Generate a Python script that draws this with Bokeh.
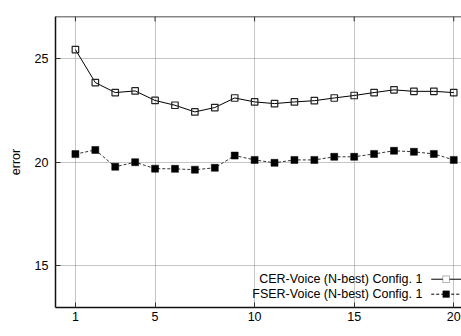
from bokeh.plotting import figure
from bokeh.models import (LinearAxis, FixedTicker, Label, Arrow, BoxAnnotation,
                          Range1d, Span)
from bokeh.embed import file_html
from bokeh.resources import INLINE

# ---- data ----
n_best = list(range(1, 21))
cer_voice = [25.41, 23.82, 23.34, 23.42, 22.96, 22.73, 22.41, 22.62, 23.08, 22.89,
             22.81, 22.89, 22.95, 23.08, 23.20, 23.34, 23.47, 23.40, 23.40, 23.34]
fser_voice = [20.38, 20.58, 19.77, 19.99, 19.68, 19.67, 19.63, 19.72, 20.31, 20.10,
              19.96, 20.10, 20.10, 20.25, 20.25, 20.39, 20.54, 20.49, 20.39, 20.10]
x_ticks = [1, 5, 10, 15, 20]
y_ticks = [15, 20, 25]
series_labels = ["CER-Voice (N-best) Config. 1", "FSER-Voice (N-best) Config. 1"]
x_label = "n-best"
y_label = "error"

FONT = "Liberation Sans"
FS = "12.5px"

x0, x1 = 0, 20.39
y0, y1 = 13, 27

p = figure(frame_width=406, frame_height=291, output_backend="svg",
           toolbar_location=None,
           x_range=Range1d(x0, x1), y_range=Range1d(y0, y1),
           x_axis_location=None, y_axis_location=None,
           min_border_left=55, min_border_right=0, min_border_top=16,
           min_border_bottom=29)
p.outline_line_color = None
p.background_fill_color = "white"
p.border_fill_color = "white"

def style_axis(ax):
    ax.axis_line_color = "#111111"
    ax.axis_line_width = 1.5
    ax.major_tick_in = 5
    ax.major_tick_out = 0
    ax.major_tick_line_color = "#333333"
    ax.minor_tick_line_color = None
    ax.major_label_text_font = FONT
    ax.major_label_text_color = "black"
    ax.major_label_text_font_size = FS

xax = LinearAxis(ticker=FixedTicker(ticks=x_ticks))
style_axis(xax)
xax.major_label_standoff = 4
p.add_layout(xax, "below")

yax = LinearAxis(ticker=FixedTicker(ticks=y_ticks), axis_label=y_label)
style_axis(yax)
yax.major_label_standoff = 7
yax.axis_label_text_font = FONT
yax.axis_label_text_font_size = FS
yax.axis_label_text_font_style = "normal"
yax.axis_label_text_color = "black"
yax.axis_label_standoff = 9
p.add_layout(yax, "left")

# top border and mirrored ticks
p.add_layout(Span(location=y1, dimension="width", line_color="#111111",
                  line_width=1.5))
for t in x_ticks:
    p.add_layout(Arrow(end=None, x_start=t, y_start=y1, x_end=t,
                       y_end=y1 - 0.24, line_color="#333333", line_width=1))

for g in (p.xgrid, p.ygrid):
    g.grid_line_color = "#8a8a8a"
    g.grid_line_dash = "1 1"
    g.grid_line_width = 1
p.xgrid.ticker = FixedTicker(ticks=x_ticks)
p.ygrid.ticker = FixedTicker(ticks=y_ticks)

# ---- series ----
p.line(n_best, cer_voice, line_color="black", line_width=1)
p.scatter(n_best, cer_voice, marker="square", size=6.5, fill_color=None,
          line_color="#222222", line_width=1.2)
p.line(n_best, fser_voice, line_color="#333333", line_width=1, line_dash="3 2")
p.scatter(n_best, fser_voice, marker="square", size=7, fill_color="black",
          line_color="black", line_width=0.5)

# ---- x axis label (partly outside window like the original) ----
p.add_layout(Label(x=10.2, y=12.08, text=x_label, text_align="center",
                   text_baseline="top", text_font=FONT, text_font_size=FS,
                   text_color="black"))

# ---- legend (manual: label left, sample right) ----
leg_text_x = 18.43
leg_line = (18.87, x1)
leg_mark_x = 19.62
rows_y = [14.36, 13.64]
dashes = ["solid", "3 2"]
fills = [None, "black"]
for lab, yy, dsh, fc in zip(series_labels, rows_y, dashes, fills):
    p.add_layout(Label(x=leg_text_x, y=yy, text=lab, text_align="right",
                       text_baseline="middle", text_font=FONT,
                       text_font_size=FS, text_color="black"))
    p.add_layout(Arrow(end=None, x_start=leg_line[0], y_start=yy,
                       x_end=leg_line[1], y_end=yy, line_color="black",
                       line_width=1, line_dash=dsh))
    hx = 0.17
    hy = 0.16
    p.add_layout(BoxAnnotation(left=leg_mark_x - hx, right=leg_mark_x + hx,
                               bottom=yy - hy, top=yy + hy,
                               fill_color=fc if fc else "white",
                               fill_alpha=1, line_color="black",
                               line_width=1))

open("out.html", "w").write(file_html(p, INLINE))
